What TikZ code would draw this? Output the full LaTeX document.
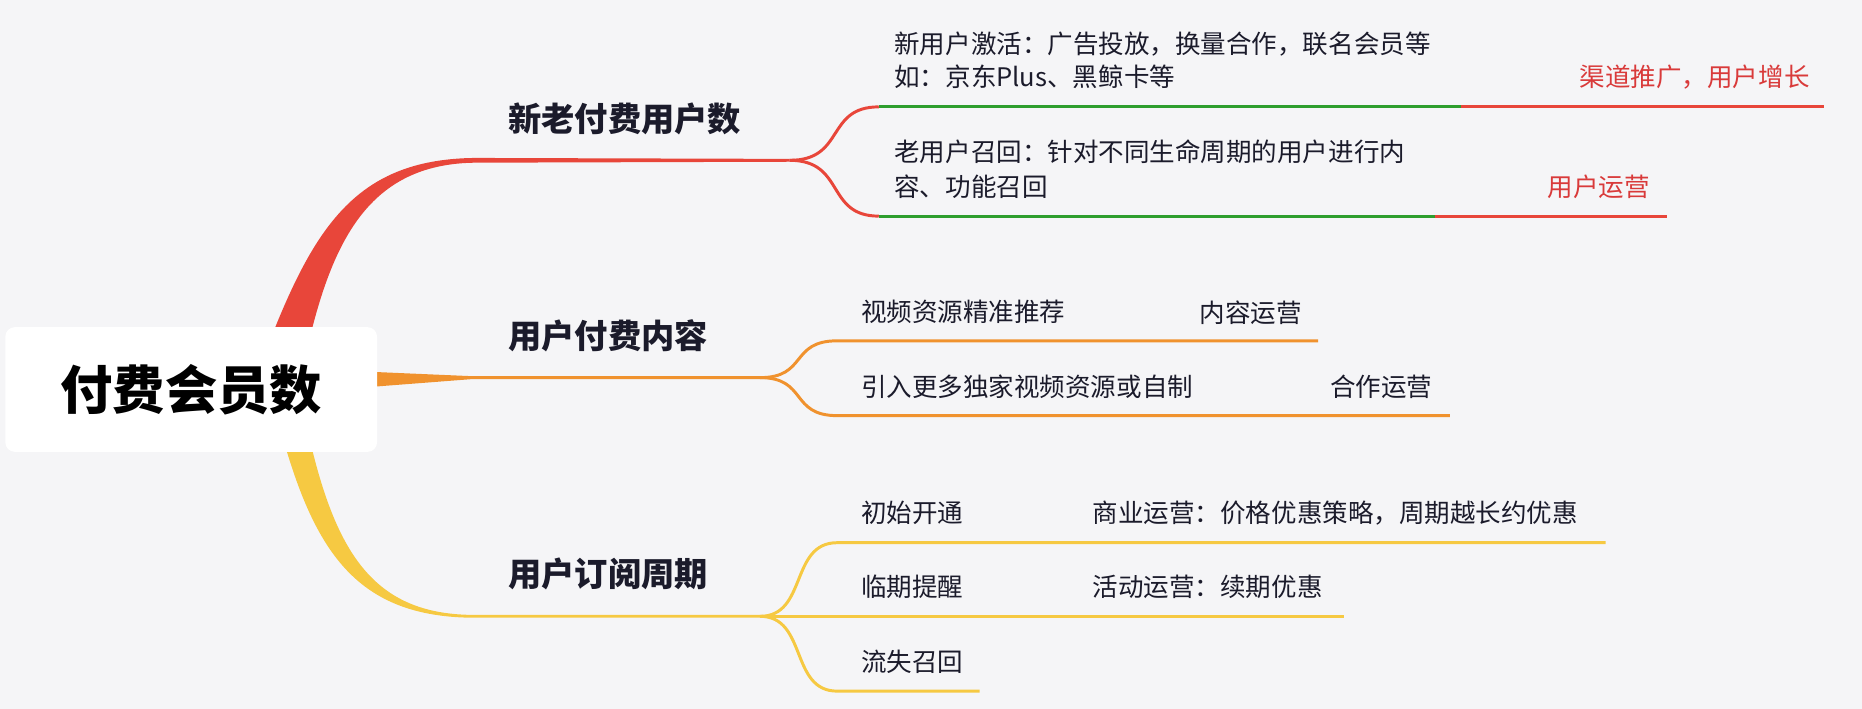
\documentclass[tikz,border=0pt]{standalone}
\usepackage{fontspec}
\newfontfamily\cjk{Noto Sans CJK SC}
\definecolor{bg}{HTML}{F5F5F7}
\definecolor{cr}{HTML}{E8463A}
\definecolor{co}{HTML}{F0922E}
\definecolor{cy}{HTML}{F6C942}
\definecolor{cg}{HTML}{2E9E2E}
\definecolor{tx}{HTML}{1B1B2B}
\definecolor{rt}{HTML}{D93A3A}
\begin{document}
\begin{tikzpicture}[x=1pt,y=-1pt,
  lab/.style={font=\cjk\fontsize{21.5}{26}\selectfont,text=tx,anchor=west,inner sep=0},
  rlab/.style={lab,text=rt},
  ttl/.style={font=\cjk\bfseries\fontsize{28}{32}\selectfont,text=tx,anchor=west,inner sep=0},
  br/.style={line width=2.5pt}]
\fill[bg] (0,0) rectangle (1568,597);
\useasboundingbox (0,0) rectangle (1568,597);
% main branches (tapered)
\fill[cr] (230,280) .. controls (268,185) and (305,134) .. (400,133) -- (665,133.8) -- (665,136.2) -- (400,137) .. controls (318,138) and (284,192) .. (262,280) -- cycle;
\fill[co] (310,313) -- (398,316.8) -- (640,316.8) -- (640,319.2) -- (398,319.2) -- (310,326) -- cycle;
\fill[cy] (262,375) .. controls (285,470) and (318,518) .. (400,517.8) -- (640,517.8) -- (640,520.2) -- (400,520.2) .. controls (305,520) and (268,470) .. (240,375) -- cycle;
% root
\node[fill=white,rounded corners=8pt,minimum width=313pt,minimum height=105pt,
  font=\cjk\bfseries\fontsize{44}{50}\selectfont,text=black] (root) at (161,328) {付费会员数};
% branch titles
\node[ttl] (t1) at (428,100) {新老付费用户数};
\node[ttl] (t2) at (428,283) {用户付费内容};
\node[ttl] (t3) at (428,483) {用户订阅周期};
% branch 1 subs
\coordinate (a1) at (665,135);
\draw[br,cr] (a1) .. controls (712,135) and (695,90) .. (740,90);
\draw[br,cr] (a1) .. controls (712,135) and (695,182) .. (740,182);
\draw[br,cg] (740,90) -- (1230,90);
\draw[br,cr] (1230,90) -- (1536,90);
\draw[br,cg] (740,182) -- (1208,182);
\draw[br,cr] (1208,182) -- (1404,182);
\node[lab] (l1) at (753,37) {新用户激活：广告投放，换量合作，联名会员等};
\node[lab] (l2) at (753,65) {如：京东Plus、黑鲸卡等};
\node[rlab,anchor=east] (r1) at (1524,65) {渠道推广，用户增长};
\node[lab] (l3) at (753,128) {老用户召回：针对不同生命周期的用户进行内};
\node[lab] (l4) at (753,157) {容、功能召回};
\node[rlab] (r2) at (1303,157) {用户运营};
% branch 2 subs
\coordinate (a2) at (640,318);
\draw[br,co] (a2) .. controls (680,318) and (665,287) .. (705,287) -- (1110,287);
\draw[br,co] (a2) .. controls (680,318) and (665,350) .. (705,350) -- (1221,350);
\node[lab] at (725,263) {视频资源精准推荐};
\node[lab] at (1010,263) {内容运营};
\node[lab] at (725,326) {引入更多独家视频资源或自制};
\node[lab] at (1120,326) {合作运营};
% branch 3 subs
\coordinate (a3) at (640,519);
\draw[br,cy] (a3) .. controls (680,519) and (665,457) .. (705,457) -- (1352,457);
\draw[br,cy] (a3) -- (1132,519);
\draw[br,cy] (a3) .. controls (680,519) and (665,582) .. (705,582) -- (825,582);
\node[lab] at (725,432) {初始开通};
\node[lab] at (920,432) {商业运营：价格优惠策略，周期越长约优惠};
\node[lab] at (725,494) {临期提醒};
\node[lab] at (920,494) {活动运营：续期优惠};
\node[lab] at (725,557) {流失召回};
\end{tikzpicture}
\end{document}
